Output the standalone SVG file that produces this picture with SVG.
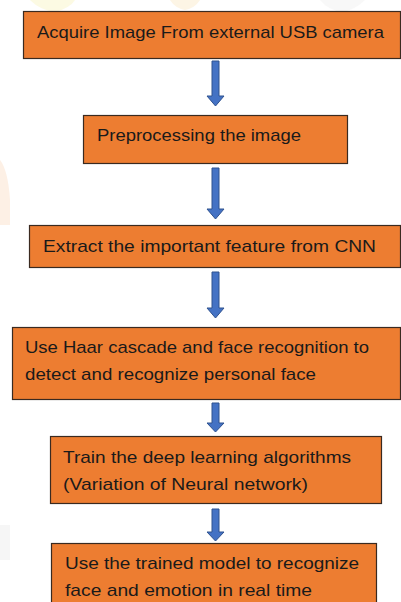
<svg xmlns="http://www.w3.org/2000/svg" width="401" height="602" viewBox="0 0 401 602">
<style>
.box{fill:#ED7D31;stroke:#3a2a20;stroke-width:1.2}
.t{font-family:"Liberation Sans",Arial,sans-serif;font-size:17px;fill:#1a1a1a}
.arr{fill:#4472C4;stroke:#2F528F;stroke-width:1}
</style>
<defs>
<path id="a" d="M-3.5,0 H3.5 V-9 H8.5 L0,0 Z"/>
</defs>
<rect width="401" height="602" fill="#ffffff"/>
<g id="watermark" opacity="0.5">
<path d="M30,0 H75 Q70,8 55,12 Q40,10 30,0 Z" fill="#fbf6c8"/>
<path d="M0,160 Q8,170 10,200 L10,225 L0,225 Z" fill="#fde2cc"/>
<path d="M0,525 L10,525 L10,560 L0,560 Z" fill="#eeeeee"/>
<path d="M170,0 H200 Q195,8 185,10 Q175,8 170,0 Z" fill="#fdeccc"/>
<path d="M320,0 H365 Q355,10 342,12 Q328,10 320,0 Z" fill="#f1f1f1"/>
</g>
<g id="connectors">
<path class="arr" d="M212,61 H219 V96 H224 L215.5,106 L207,96 H212 Z"/>
<path class="arr" d="M212,168 H219 V209 H224 L215.5,219 L207,209 H212 Z"/>
<path class="arr" d="M212,272 H219 V308 H224 L215.5,318 L207,308 H212 Z"/>
<path class="arr" d="M212,403 H219 V423 H224 L215.5,432 L207,423 H212 Z"/>
<path class="arr" d="M212,509 H219 V532 H224 L215.5,541 L207,532 H212 Z"/>
</g>
<g id="n1">
<rect class="box" x="23.5" y="11.5" width="377" height="47"/>
<text class="t" x="37" y="38" textLength="347" lengthAdjust="spacingAndGlyphs">Acquire Image From external USB camera</text>
</g>
<g id="n2">
<rect class="box" x="83.5" y="115.5" width="264" height="48"/>
<text class="t" x="97" y="141" textLength="204" lengthAdjust="spacingAndGlyphs">Preprocessing the image</text>
</g>
<g id="n3">
<rect class="box" x="29.5" y="225.5" width="371" height="42"/>
<text class="t" x="43" y="252" textLength="333" lengthAdjust="spacingAndGlyphs">Extract the important feature from CNN</text>
</g>
<g id="n4">
<rect class="box" x="12.5" y="327.5" width="388" height="72"/>
<text class="t" x="25" y="353" textLength="344" lengthAdjust="spacingAndGlyphs">Use Haar cascade and face recognition to</text>
<text class="t" x="25" y="380" textLength="291" lengthAdjust="spacingAndGlyphs">detect and recognize personal face</text>
</g>
<g id="n5">
<rect class="box" x="50.5" y="436.5" width="331" height="67"/>
<text class="t" x="63" y="463" textLength="288" lengthAdjust="spacingAndGlyphs">Train the deep learning algorithms</text>
<text class="t" x="63" y="490" textLength="245" lengthAdjust="spacingAndGlyphs">(Variation of Neural network)</text>
</g>
<g id="n6">
<rect class="box" x="51.5" y="543.5" width="325" height="70"/>
<text class="t" x="65" y="569" textLength="294" lengthAdjust="spacingAndGlyphs">Use the trained model to recognize</text>
<text class="t" x="65" y="596" textLength="247" lengthAdjust="spacingAndGlyphs">face and emotion in real time</text>
</g>
</svg>
